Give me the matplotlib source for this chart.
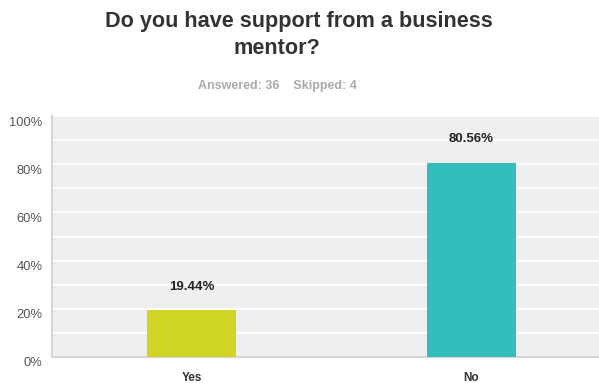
import matplotlib.pyplot as plt
import matplotlib.transforms as mtransforms
import numpy as np

plt.rcParams['font.family'] = ['Liberation Sans', 'DejaVu Sans']

# survey answers
answers = ['Yes', 'No']
shares = [19.44, 80.56]
bar_colors = ['#d0d524', '#33bdbd']
answered = 36
skipped = 4

fig = plt.figure(figsize=(5.99, 3.83), dpi=100)
ax = fig.add_axes([52 / 599, 26 / 383, 559 / 599, 241 / 383])
ax.set_facecolor('#efefef')

x = np.arange(len(answers))
ax.bar(x, shares, width=0.32, color=bar_colors, zorder=3)
for xi, v in zip(x, shares):
    ax.annotate(f'{v:.2f}%', (xi, v), xytext=(0, 17), textcoords='offset points',
                ha='center', va='center', fontsize=9.5, fontweight='bold', color='#222222')

ax.set_xlim(-0.5, 1.5)
ax.set_ylim(0, 100)
ax.set_yticks(np.arange(0, 101, 10), minor=True)
ax.set_yticks(np.arange(0, 101, 20))
ax.set_yticklabels([f'{t}%' for t in range(0, 101, 20)], fontsize=9.3, color='#555555')
ax.grid(axis='y', which='both', color='white', linewidth=1.2, zorder=1)
ax.set_xticks(x)
ax.set_xticklabels(answers, fontsize=8.5, fontweight='bold', color='#333333')
ax.tick_params(axis='both', which='both', length=0)
ax.tick_params(axis='y', pad=7)
ax.tick_params(axis='x', pad=11)

# y labels sit a few pixels under their grid lines
shift = mtransforms.ScaledTranslation(0, -5 / 100, fig.dpi_scale_trans)
for lbl in ax.get_yticklabels():
    lbl.set_transform(lbl.get_transform() + shift)

for s in ['top', 'right']:
    ax.spines[s].set_visible(False)
for s in ['left', 'bottom']:
    ax.spines[s].set_color('#d6d6d6')
    ax.spines[s].set_linewidth(1.5)

fig.text(299 / 599, 1 - 22 / 383, 'Do you have support from a business',
         ha='center', va='center', fontsize=15.6, fontweight='bold', color='#333333')
fig.text(277 / 599, 1 - 48 / 383, 'mentor?',
         ha='center', va='center', fontsize=15.6, fontweight='bold', color='#333333')
fig.text(277 / 599, 1 - 86 / 383, f'Answered: {answered}    Skipped: {skipped}',
         ha='center', va='center', fontsize=9, fontweight='bold', color='#aaaaaa')

fig.savefig('out.png', dpi=100)
